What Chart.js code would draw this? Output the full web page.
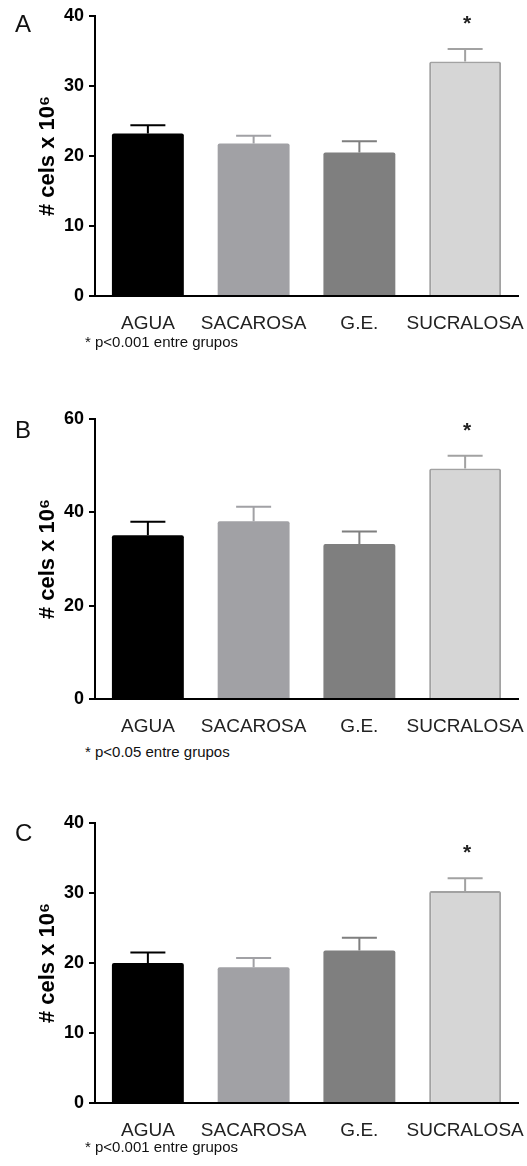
<!DOCTYPE html>
<html lang="es">
  <head>
    <meta charset="UTF-8" />
    <title>Celularidad por grupo</title>
    <script src="https://cdn.jsdelivr.net/npm/chart.js"></script>
    <style>
      body { margin: 0; background: #fff; font-family: "Liberation Sans", Arial, sans-serif; }
      #page { position: relative; width: 527px; height: 1166px; overflow: hidden; }
      .panel { position: absolute; left: 0; }
      .letter { position: absolute; left: 15px; font-size: 24px; line-height: 1; color: #111; }
      .note { position: absolute; left: 85px; font-size: 15px; line-height: 1; color: #111; }
    </style>
  </head>
  <body>
    <div id="page">
      <div class="panel" style="top:0px"><canvas id="chartA" width="527" height="340"></canvas></div>
      <div class="panel" style="top:403px"><canvas id="chartB" width="527" height="340"></canvas></div>
      <div class="panel" style="top:807px"><canvas id="chartC" width="527" height="340"></canvas></div>

      <div class="letter" style="top:12px">A</div>
      <div class="letter" style="top:418px">B</div>
      <div class="letter" style="top:821px">C</div>

      <div class="note" style="top:334px">* p&lt;0.001 entre grupos</div>
      <div class="note" style="top:744px">* p&lt;0.05 entre grupos</div>
      <div class="note" style="top:1139px">* p&lt;0.001 entre grupos</div>
    </div>

    <script>
// groups
const categories = ['AGUA', 'SACAROSA', 'G.E.', 'SUCRALOSA'];

// panel A
const meanA = [23.2, 21.8, 20.5, 33.5];
const semA = [1.2, 1.1, 1.6, 1.8];
// panel B
const meanB = [35.1, 38.1, 33.2, 49.4];
const semB = [2.9, 3.1, 2.7, 2.7];
// panel C
const meanC = [20.0, 19.4, 21.8, 30.3];
const semC = [1.5, 1.3, 1.8, 1.8];

// y axes
const yMaxes = [40, 60, 40];
const ySteps = [10, 20, 10];

// which group gets the asterisk
const signif = [false, false, false, true];

const fillColors = ['#000000', '#a1a1a5', '#7f7f7f', '#d6d6d6'];
const edgeColors = ['#000000', '#a1a1a5', '#7f7f7f', '#a2a2a2'];
const borderWidths = [0, 0, 0, 2];

const FONT = '"Liberation Sans", Arial, sans-serif';

// error bars (upward only) + asterisk
const errorBarPlugin = {
  id: 'errorBars',
  afterDatasetsDraw(chart) {
    const ctx = chart.ctx;
    const meta = chart.getDatasetMeta(0);
    const y = chart.scales.y;
    const vals = chart.data.datasets[0].data;
    const errs = chart.data.datasets[0].sem;
    ctx.save();
    meta.data.forEach((bar, i) => {
      const top = y.getPixelForValue(vals[i]);
      const capY = y.getPixelForValue(vals[i] + errs[i]);
      ctx.strokeStyle = edgeColors[i];
      ctx.lineWidth = 2;
      ctx.beginPath();
      ctx.moveTo(bar.x, top);
      ctx.lineTo(bar.x, capY);
      ctx.moveTo(bar.x - 17.5, capY);
      ctx.lineTo(bar.x + 17.5, capY);
      ctx.stroke();
      if (signif[i]) {
        ctx.fillStyle = '#222';
        ctx.font = 'bold 21px ' + FONT;
        ctx.textAlign = 'center';
        ctx.textBaseline = 'middle';
        ctx.fillText('*', bar.x + 2, capY - 25);
      }
    });
    ctx.restore();
  }
};

function makeChart(id, values, sem, yMax, yStep) {
  return new Chart(document.getElementById(id), {
    type: 'bar',
    data: {
      labels: categories,
      datasets: [{
        data: values,
        sem: sem,
        backgroundColor: fillColors,
        borderColor: edgeColors,
        borderWidth: borderWidths,
        borderSkipped: 'bottom',
        borderRadius: 2,
        barPercentage: 0.68,
        categoryPercentage: 1.0
      }]
    },
    options: {
      responsive: false,
      animation: false,
      devicePixelRatio: 1,
      layout: { padding: { top: 16, right: 9, left: 0, bottom: 0 } },
      plugins: {
        legend: { display: false },
        tooltip: { enabled: false }
      },
      scales: {
        x: {
          // ticks hidden, tickLength only pushes labels down
          grid: { display: false, drawTicks: true, tickLength: 16 },
          border: { display: true, color: '#000', width: 2 },
          ticks: {
            color: '#222',
            padding: 0,
            autoSkip: false,
            maxRotation: 0,
            minRotation: 0,
            font: { family: FONT, size: 19 }
          },
          afterFit: (scale) => { scale.height = 44; }
        },
        y: {
          min: 0,
          max: yMax,
          ticks: {
            stepSize: yStep,
            color: '#000',
            padding: 5,
            font: { family: FONT, size: 18, weight: 'bold' }
          },
          grid: {
            display: true,
            drawOnChartArea: false,
            drawTicks: true,
            tickLength: 6,
            color: '#000',
            lineWidth: 2
          },
          border: { display: true, color: '#000', width: 2 },
          title: {
            display: true,
            text: '# cels x 10\u2076',
            color: '#000',
            padding: { top: 35, bottom: 0 },
            font: { family: FONT, size: 22, weight: 'bold' }
          },
          afterFit: (scale) => { scale.width = 95; }
        }
      }
    },
    plugins: [errorBarPlugin]
  });
}

makeChart('chartA', meanA, semA, yMaxes[0], ySteps[0]);
makeChart('chartB', meanB, semB, yMaxes[1], ySteps[1]);
makeChart('chartC', meanC, semC, yMaxes[2], ySteps[2]);
    </script>
  </body>
</html>
